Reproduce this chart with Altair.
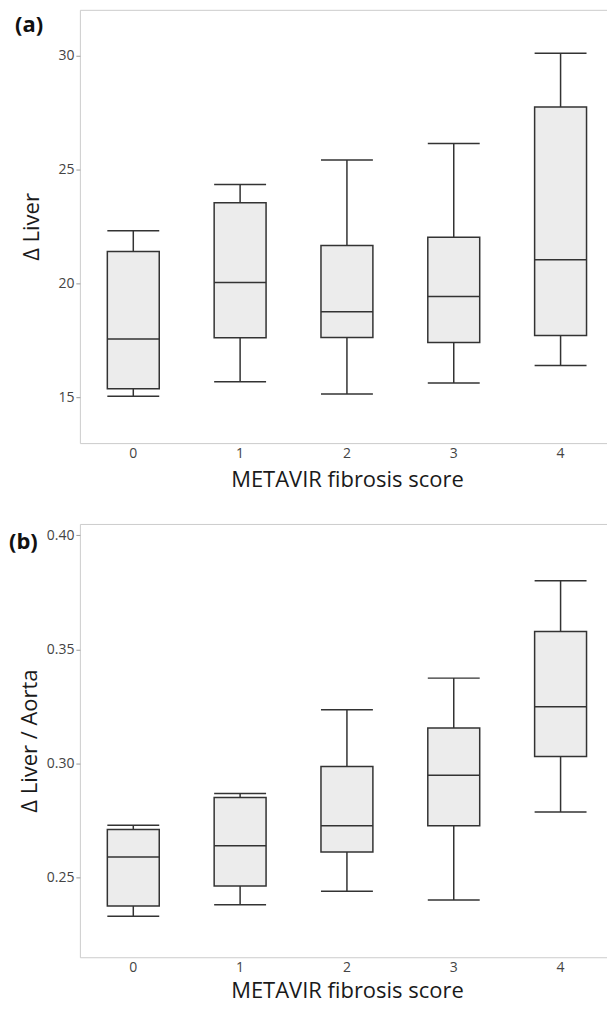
import altair as alt
import pandas as pd

scores = ["0", "1", "2", "3", "4"]

# Panel (a): Δ Liver
a_low = [15.05, 15.69, 15.15, 15.64, 16.40]
a_q1 = [15.38, 17.62, 17.63, 17.41, 17.72]
a_med = [17.56, 20.04, 18.76, 19.43, 21.04]
a_q3 = [21.40, 23.54, 21.67, 22.03, 27.74]
a_high = [22.31, 24.34, 25.41, 26.14, 30.10]

# Panel (b): Δ Liver / Aorta
b_low = [0.2330, 0.2380, 0.2439, 0.2401, 0.2787]
b_q1 = [0.2375, 0.2462, 0.2612, 0.2727, 0.3030]
b_med = [0.2590, 0.2639, 0.2727, 0.2948, 0.3249]
b_q3 = [0.2710, 0.2851, 0.2986, 0.3155, 0.3578]
b_high = [0.2729, 0.2868, 0.3235, 0.3374, 0.3801]

FONT = "Open Sans"
BOX_W = 52
STROKE = "#333333"


def panel(low, q1, med, q3, high, domain, ticks, fmt, ytitle, tag, tag_x,
          tag_y, title_pad, x_title_pad):
    df = pd.DataFrame({"score": scores, "low": low, "q1": q1, "med": med,
                       "q3": q3, "high": high})
    base = alt.Chart(df)
    x = alt.X("score:N", title="METAVIR fibrosis score",
              axis=alt.Axis(labelAngle=0, ticks=False, domain=False,
                            labelPadding=3, titlePadding=x_title_pad))
    yscale = alt.Scale(domain=domain, nice=False, zero=False)
    yaxis = alt.Axis(values=ticks, format=fmt, grid=False, domain=False,
                     tickSize=4, tickColor="#9a9a9a", labelPadding=2,
                     titlePadding=title_pad)
    whisker = base.mark_rule(color=STROKE, strokeWidth=1.5).encode(
        x=x,
        y=alt.Y("low:Q", scale=yscale, axis=yaxis, title=ytitle),
        y2="high:Q")
    box = base.mark_bar(size=BOX_W, fill="#ececec", stroke=STROKE,
                        strokeWidth=1.5).encode(x=x, y="q1:Q", y2="q3:Q")
    med_t = base.mark_tick(size=BOX_W, thickness=1.5, color=STROKE,
                           opacity=1).encode(x=x, y="med:Q")
    lo_t = base.mark_tick(size=BOX_W, thickness=1.5, color=STROKE,
                          opacity=1).encode(x=x, y="low:Q")
    hi_t = base.mark_tick(size=BOX_W, thickness=1.5, color=STROKE,
                          opacity=1).encode(x=x, y="high:Q")
    label = alt.Chart(pd.DataFrame({"t": [tag]})).mark_text(
        align="left", baseline="middle", fontSize=22, fontWeight="bold",
        font=FONT, color="#111111").encode(
        text="t:N", x=alt.value(tag_x), y=alt.value(tag_y))
    return alt.layer(whisker, box, med_t, lo_t, hi_t, label).properties(
        width=535, height=434)


pa = panel(a_low, a_q1, a_med, a_q3, a_high, [13, 32], [15, 20, 25, 30],
           "d", "Δ Liver", "(a)", -65, 15, 14, 9)
pb = panel(b_low, b_q1, b_med, b_q3, b_high, [0.215, 0.405],
           [0.25, 0.30, 0.35, 0.40], ".2f", "Δ Liver / Aorta", "(b)", -71,
           18, 5, 6)

chart = alt.vconcat(pa, pb, spacing=32).properties(
    padding={"left": 0, "top": 0, "right": -8, "bottom": 0}
).configure(background="white").configure_view(
    stroke="#cccccc", strokeWidth=1
).configure_axis(
    labelFont=FONT, titleFont=FONT, labelFontSize=14, labelColor="#444444",
    titleFontSize=22, titleFontWeight="normal", titleColor="#1a1a1a"
)

chart.save("out.html", embed_options={"renderer": "svg", "actions": False})
